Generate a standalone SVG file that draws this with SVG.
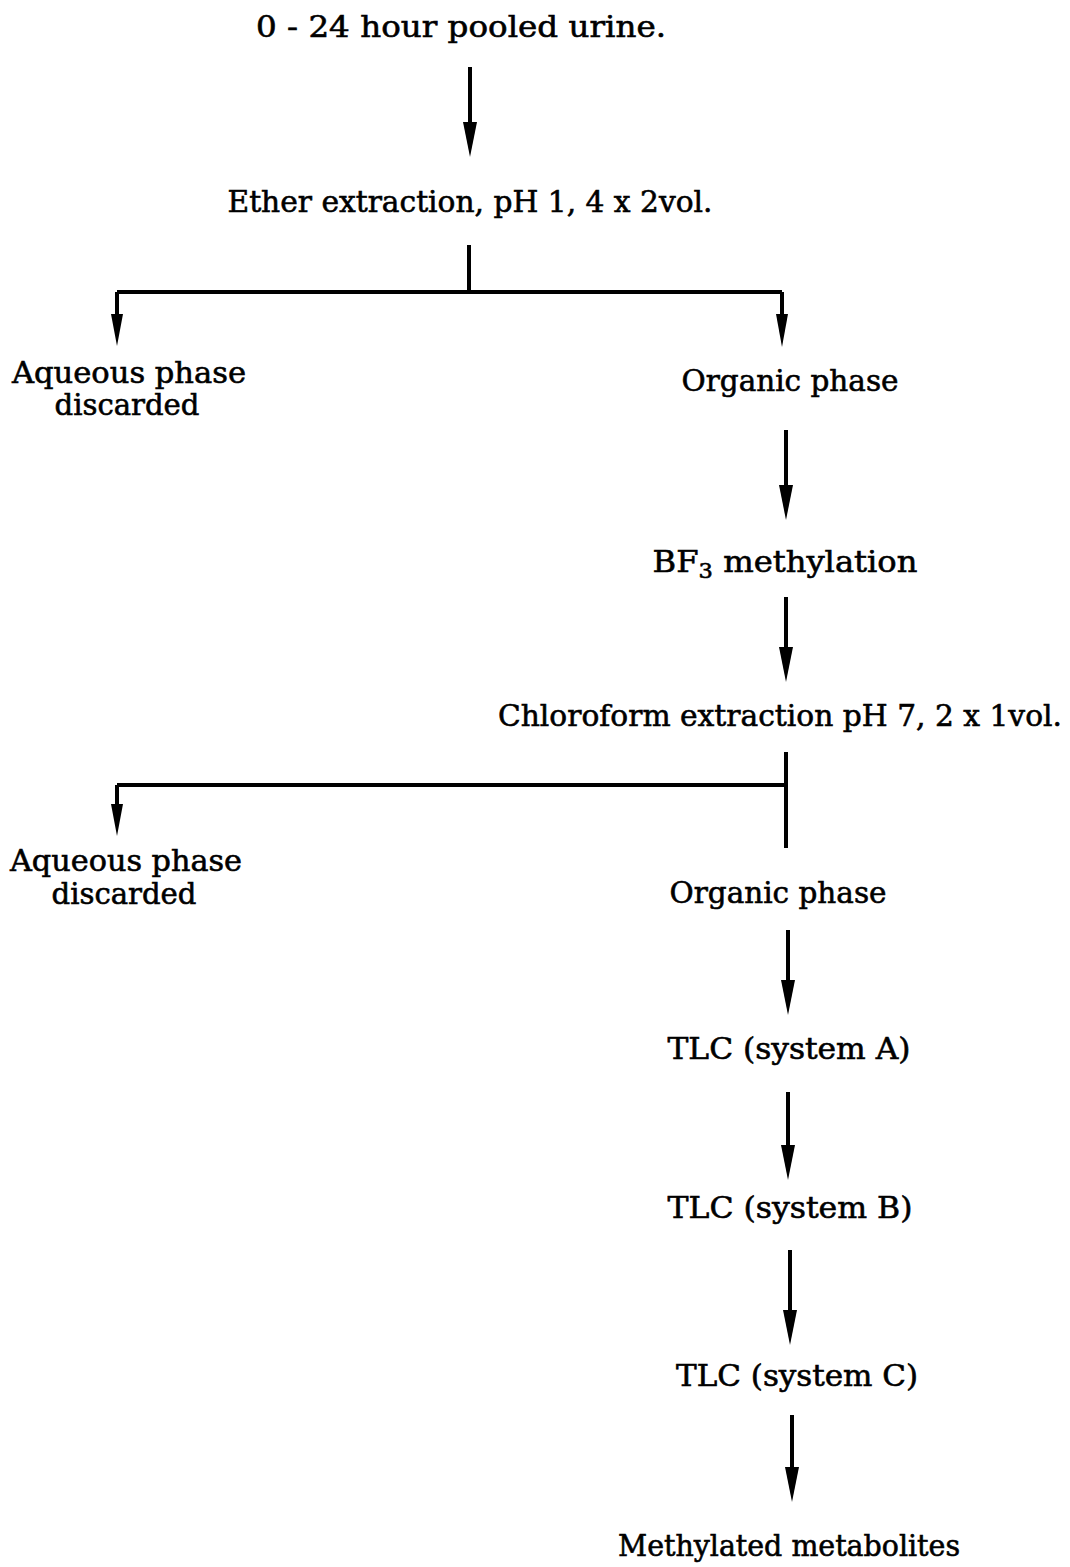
<svg xmlns="http://www.w3.org/2000/svg" width="1070" height="1567" viewBox="0 0 1070 1567">
<style>
text{font-family:"DejaVu Serif","Liberation Serif",serif;font-size:30px;fill:#000;stroke:#000;stroke-width:0.6;text-anchor:middle}
.c{stroke:#000;stroke-width:4;fill:none}
.h{fill:#000;stroke:none}
</style>
<rect width="1070" height="1567" fill="#fff"/>
<g id="n1"><text x="461" y="37" textLength="410" lengthAdjust="spacingAndGlyphs">0 - 24 hour pooled urine.</text></g>
<g id="n2"><text x="470" y="212" textLength="485" lengthAdjust="spacingAndGlyphs">Ether extraction, pH 1, 4 x 2vol.</text></g>
<g id="n3"><text x="129" y="383" textLength="234" lengthAdjust="spacingAndGlyphs">Aqueous phase</text><text x="127" y="415" textLength="145" lengthAdjust="spacingAndGlyphs">discarded</text></g>
<g id="n4"><text x="790" y="391" textLength="217" lengthAdjust="spacingAndGlyphs">Organic phase</text></g>
<g id="n5"><text x="785" y="572" textLength="265" lengthAdjust="spacingAndGlyphs">BF<tspan font-size="21" dy="6">3</tspan><tspan dy="-6"> methylation</tspan></text></g>
<g id="n6"><text x="780" y="726" textLength="564" lengthAdjust="spacingAndGlyphs">Chloroform extraction pH 7, 2 x 1vol.</text></g>
<g id="n7"><text x="126" y="871" textLength="232" lengthAdjust="spacingAndGlyphs">Aqueous phase</text><text x="124" y="904" textLength="145" lengthAdjust="spacingAndGlyphs">discarded</text></g>
<g id="n8"><text x="778" y="903" textLength="217" lengthAdjust="spacingAndGlyphs">Organic phase</text></g>
<g id="n9"><text x="789" y="1059" textLength="243" lengthAdjust="spacingAndGlyphs">TLC (system A)</text></g>
<g id="n10"><text x="790" y="1218" textLength="245" lengthAdjust="spacingAndGlyphs">TLC (system B)</text></g>
<g id="n11"><text x="797" y="1386" textLength="242" lengthAdjust="spacingAndGlyphs">TLC (system C)</text></g>
<g id="n12"><text x="789" y="1556" textLength="342" lengthAdjust="spacingAndGlyphs">Methylated metabolites</text></g>
<g id="connectors">
<path class="c" d="M470 67V125"/><path class="h" d="M463 122L477 122L470 157Z"/>
<path class="c" d="M469 245V292M117 292H782M117 292V318M782 292V318"/>
<path class="h" d="M111 314L123 314L117 346Z"/><path class="h" d="M776 314L788 314L782 347Z"/>
<path class="c" d="M786 430V488"/><path class="h" d="M779 485L793 485L786 520Z"/>
<path class="c" d="M786 597V650"/><path class="h" d="M779 647L793 647L786 682Z"/>
<path class="c" d="M786 752V848M117 785H786M117 785V808"/>
<path class="h" d="M111 804L123 804L117 836Z"/>
<path class="c" d="M788 930V983"/><path class="h" d="M781 980L795 980L788 1015Z"/>
<path class="c" d="M788 1092V1148"/><path class="h" d="M781 1145L795 1145L788 1180Z"/>
<path class="c" d="M790 1250V1313"/><path class="h" d="M783 1310L797 1310L790 1345Z"/>
<path class="c" d="M792 1415V1470"/><path class="h" d="M785 1467L799 1467L792 1502Z"/>
</g>
</svg>
